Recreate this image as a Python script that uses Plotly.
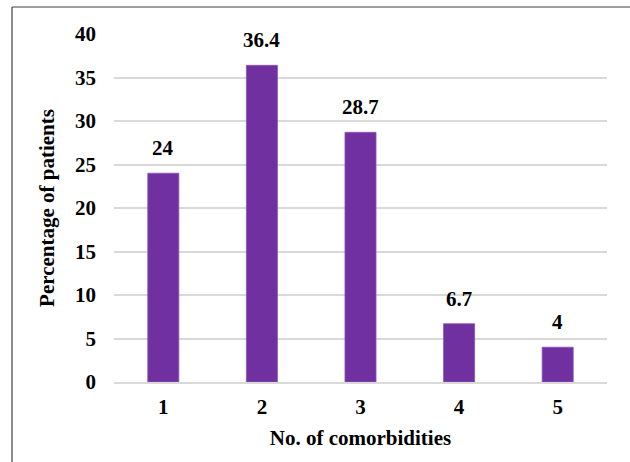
import plotly.graph_objects as go

# Share of patients by number of comorbidities
categories = ["1", "2", "3", "4", "5"]
percentages = [24, 36.4, 28.7, 6.7, 4]
y_ticks = [0, 5, 10, 15, 20, 25, 30, 35, 40]

W, H = 630, 462
L, R, T, B = 114, 23, 34, 80
pw, ph = W - L - R, H - T - B

font_family = "Liberation Serif, Times New Roman, serif"
FS = 21

fig = go.Figure(
    go.Bar(
        x=categories,
        y=percentages,
        marker=dict(color="#7030A0", line=dict(color="#8a55b5", width=0.8)),
        cliponaxis=False,
    )
)

# value labels above each bar (positioned by category index)
for i, v in enumerate(percentages):
    fig.add_annotation(
        x=i, y=v, text=f"<b>{v:g}</b>", showarrow=False,
        yanchor="bottom", yshift=11,
        font=dict(family=font_family, size=FS, color="#000000"),
    )

def px_to_paper_x(px):
    return (px - L) / pw

def px_to_paper_y(py):
    return (H - B - py) / ph

# outer frame of the chart area (top and left edges)
frame_x0, frame_y0 = 12, 7
fig.add_shape(type="line", xref="paper", yref="paper",
              x0=px_to_paper_x(frame_x0), x1=px_to_paper_x(W + 5),
              y0=px_to_paper_y(frame_y0), y1=px_to_paper_y(frame_y0),
              line=dict(color="#404040", width=1.2))
fig.add_shape(type="line", xref="paper", yref="paper",
              x0=px_to_paper_x(frame_x0), x1=px_to_paper_x(frame_x0),
              y0=px_to_paper_y(frame_y0), y1=px_to_paper_y(H + 5),
              line=dict(color="#404040", width=1.2))

fig.update_layout(
    width=W, height=H,
    margin=dict(l=L, r=R, t=T, b=B, pad=0),
    paper_bgcolor="white", plot_bgcolor="white",
    bargap=0.685,
    showlegend=False,
    font=dict(family=font_family, size=FS, color="#000000"),
    xaxis=dict(
        type="category",
        range=[-0.5, len(categories) - 0.5],
        title=dict(text="<b>No. of comorbidities</b>", font=dict(size=FS), standoff=12),
        tickfont=dict(size=FS),
        ticktext=[f"<b>{c}</b>" for c in categories],
        tickvals=categories,
        showline=True, linecolor="#d9d9d9", linewidth=2,
        ticks="", showgrid=False,
        ticklabelstandoff=5,
    ),
    yaxis=dict(
        title=dict(text="<b>Percentage of patients</b>", font=dict(size=FS), standoff=14),
        range=[0, 40],
        tickvals=y_ticks,
        ticktext=[f"<b>{t}</b>" for t in y_ticks],
        tickfont=dict(size=FS),
        showgrid=True, gridcolor="#d9d9d9", gridwidth=2,
        zeroline=False, showline=False, ticks="",
        ticklabelstandoff=17,
    ),
)

fig.write_html("out.html")
